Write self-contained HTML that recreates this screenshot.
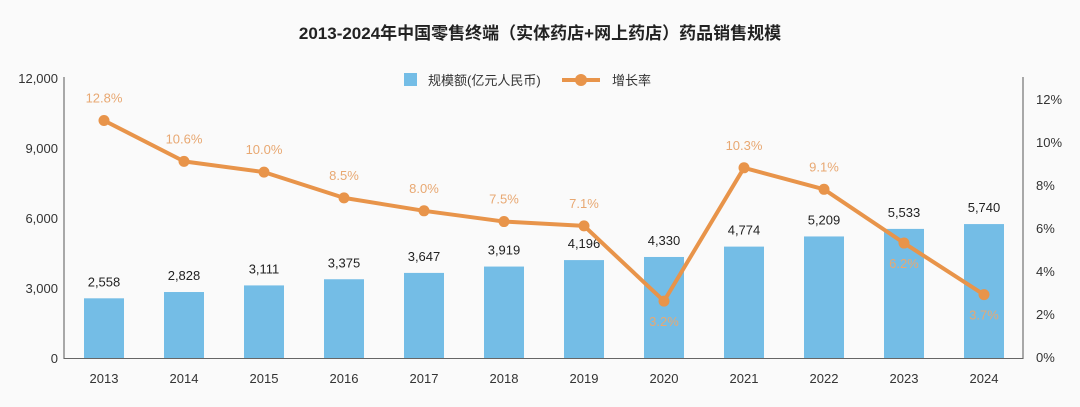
<!DOCTYPE html>
<html><head><meta charset="utf-8"><style>
body{margin:0;background:#fafafa;}
svg{display:block;font-family:"Liberation Sans","Noto Sans CJK SC",sans-serif;}
</style></head><body>
<svg id="chart" width="1080" height="407">
<rect width="1080" height="407" fill="#fafafa"/>
<text x="540" y="39" text-anchor="middle" font-size="17" font-weight="bold" fill="#222">2013-2024年中国零售终端（实体药店+网上药店）药品销售规模</text>
<g>
<rect x="404" y="73" width="13" height="13" fill="#74bde6"/>
<text x="428" y="85" font-size="13" fill="#333">规模额(亿元人民币)</text>
<line x1="562" y1="80" x2="600" y2="80" stroke="#e8944a" stroke-width="4"/>
<circle cx="581" cy="80" r="6" fill="#e8944a"/>
<text x="612" y="85" font-size="13" fill="#333">增长率</text>
</g>
<g id="g"></g>
</svg>
<script>
const years=["2013","2014","2015","2016","2017","2018","2019","2020","2021","2022","2023","2024"];
const sales=[2558,2828,3111,3375,3647,3919,4196,4330,4774,5209,5533,5740];
const salesLabels=["2,558","2,828","3,111","3,375","3,647","3,919","4,196","4,330","4,774","5,209","5,533","5,740"];
const growth=[11.0,9.1,8.6,7.4,6.8,6.3,6.1,2.6,8.8,7.8,5.3,2.9];
const growthLabels=["12.8%","10.6%","10.0%","8.5%","8.0%","7.5%","7.1%","3.2%","10.3%","9.1%","6.2%","3.7%"];
const leftTicks=[0,3000,6000,9000,12000];
const leftTickLabels=["0","3,000","6,000","9,000","12,000"];
const rightTicks=[0,2,4,6,8,10,12];
const rightTickLabels=["0%","2%","4%","6%","8%","10%","12%"];

const NS="http://www.w3.org/2000/svg";
const g=document.getElementById('g');
function el(t,a,txt){const e=document.createElementNS(NS,t);for(const k in a)e.setAttribute(k,a[k]);if(txt!==undefined)e.textContent=txt;g.appendChild(e);return e;}
const xS=i=>104+i*80;
const yL=v=>358-v/12000*280;
const yR=v=>357-v/12*258;

let e=el('line',{x1:64,y1:77,x2:64,y2:359,stroke:'#555','stroke-width':1});


e=el('line',{x1:1023,y1:77,x2:1023,y2:359,stroke:'#555','stroke-width':1});


e=el('line',{x1:64,y1:358.5,x2:1023,y2:358.5,stroke:'#666','stroke-width':1});



leftTicks.forEach((t,i)=>{
 const tx=el('text',{x:58,y:yL(t)+5,'text-anchor':'end','font-size':13,fill:'#333'},leftTickLabels[i]);
 
 
});
rightTicks.forEach((t,i)=>{
 const tx=el('text',{x:1036,y:yR(t)+5,'font-size':13,fill:'#333'},rightTickLabels[i]);
 
 
});
years.forEach((y,i)=>{
 const b=el('rect',{x:xS(i)-20,y:yL(sales[i]),width:40,height:358-yL(sales[i]),fill:'#74bde6'});
 
 
 const l=el('text',{x:xS(i),y:yL(sales[i])-12,'text-anchor':'middle','font-size':13,fill:'#222'},salesLabels[i]);
 
 
 const x=el('text',{x:xS(i),y:383,'text-anchor':'middle','font-size':13,fill:'#333'},y);
 
 
});
const pl=el('polyline',{points:growth.map((v,i)=>xS(i)+','+yR(v)).join(' '),fill:'none',stroke:'#e8944a','stroke-width':4,'stroke-linejoin':'round'});


growth.forEach((v,i)=>{
 const c=el('circle',{cx:xS(i),cy:yR(v),r:5.5,fill:'#e8944a'});
 
 
 const below=(i===7||i>=10);
 const t=el('text',{x:xS(i),y:below?yR(v)+25:yR(v)-18,'text-anchor':'middle','font-size':13,fill:'#e8a872'},growthLabels[i]);
 
 
});
</script>
</body></html>
